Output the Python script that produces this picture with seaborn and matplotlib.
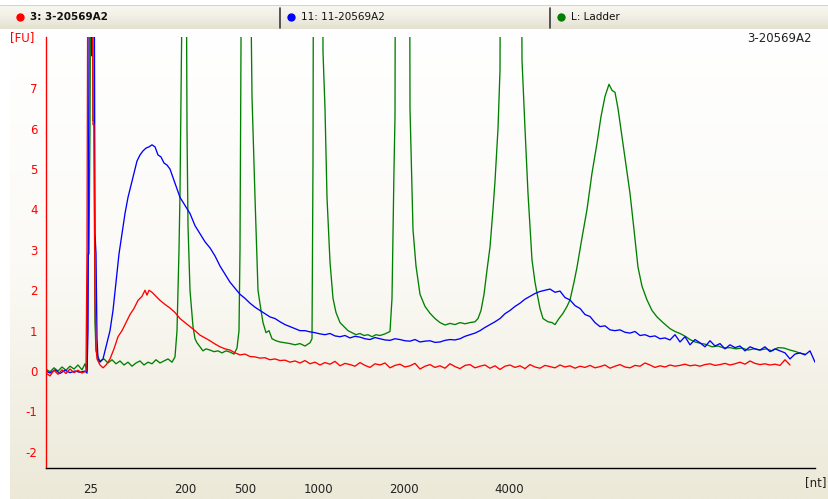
import numpy as np
import pandas as pd
import matplotlib
matplotlib.use("Agg")
import matplotlib.pyplot as plt
import seaborn as sns
from matplotlib.colors import LinearSegmentedColormap

# ---------------- data (migration time in s, fluorescence in FU) ----------------
sample3_time = [18.3, 18.5, 18.7, 18.9, 19.1, 19.3, 19.5, 19.7, 19.9, 20.1, 20.3,
                20.35, 20.4, 20.5, 20.55, 20.6, 20.65, 20.7, 20.75, 20.8, 20.85,
                21.0, 21.15, 21.3,
                21.5, 21.7, 21.9, 22.1, 22.3, 22.5, 22.7, 22.9, 23.1,
                23.25, 23.35, 23.45, 23.6, 23.8, 24.0,
                24.25, 24.5, 24.75, 25.0, 25.25, 25.5, 25.75, 26.0, 26.25, 26.5,
                26.75, 27.0, 27.25, 27.5, 27.75, 28.0, 28.25, 28.5, 28.75, 29.0,
                29.25, 29.5, 29.75, 30.0, 30.25, 30.5, 30.75,
                31.0, 31.25, 31.5, 31.75, 32.0, 32.25, 32.5, 32.75, 33.0, 33.25,
                33.5, 33.75, 34.0, 34.25, 34.5, 34.75, 35.0, 35.25, 35.5, 35.75,
                36.0, 36.25, 36.5, 36.75, 37.0, 37.25, 37.5, 37.75, 38.0, 38.25,
                38.5, 38.75, 39.0, 39.25, 39.5, 39.75, 40.0, 40.25, 40.5, 40.75,
                41.0, 41.25, 41.5, 41.75, 42.0, 42.25, 42.5, 42.75, 43.0, 43.25,
                43.5, 43.75, 44.0, 44.25, 44.5, 44.75, 45.0, 45.25, 45.5, 45.75,
                46.0, 46.25, 46.5, 46.75, 47.0, 47.25, 47.5, 47.75, 48.0, 48.25,
                48.5, 48.75, 49.0, 49.25, 49.5, 49.75, 50.0, 50.25, 50.5, 50.75,
                51.0, 51.25, 51.5, 51.75, 52.0, 52.25, 52.5, 52.75, 53.0, 53.25,
                53.5, 53.75, 54.0, 54.25, 54.5, 54.75, 55.0, 55.25, 55.5]
sample3_fu = [-0.05, -0.12, 0.02, -0.08, 0.03, -0.06, 0.05, -0.04, 0.02, -0.05, 0.0,
              3.0, 12, 30, 30, 12, 6.1, 6.1, 1.8, 0.6, 0.3,
              0.15, 0.08, 0.15,
              0.3, 0.55, 0.85, 1.0, 1.2, 1.4, 1.55, 1.75, 1.85,
              2.0, 1.88, 2.0, 1.95, 1.85, 1.75,
              1.65, 1.56, 1.45, 1.3, 1.2, 1.1, 1.0, 0.89, 0.82, 0.75,
              0.67, 0.6, 0.55, 0.52, 0.45, 0.4, 0.42, 0.36, 0.35, 0.32,
              0.33, 0.28, 0.3, 0.26, 0.27, 0.22, 0.25,
              0.20, 0.26, 0.18, 0.22, 0.15, 0.21, 0.17, 0.24, 0.13, 0.19,
              0.16, 0.12, 0.21, 0.14, 0.09, 0.18, 0.15, 0.20, 0.08, 0.14,
              0.17, 0.10, 0.13, 0.19, 0.05, 0.12, 0.16, 0.09, 0.13, 0.07,
              0.18, 0.11, 0.06, 0.14, 0.16, 0.08, 0.12, 0.15, 0.07, 0.13,
              0.04, 0.12, 0.15, 0.09, 0.13, 0.06, 0.16, 0.10, 0.07, 0.14,
              0.11, 0.08, 0.15, 0.10, 0.13, 0.07, 0.12, 0.09, 0.14, 0.08,
              0.11, 0.15, 0.07, 0.12, 0.16, 0.10, 0.08, 0.14, 0.12, 0.20,
              0.15, 0.09, 0.13, 0.10, 0.15, 0.12, 0.14, 0.17, 0.13, 0.15,
              0.12, 0.16, 0.18, 0.14, 0.16, 0.19, 0.15, 0.18, 0.22, 0.17,
              0.25, 0.19, 0.16, 0.18, 0.15, 0.17, 0.14, 0.28, 0.15]

sample11_time = [18.3, 18.5, 18.75, 19.0, 19.25, 19.5, 19.75, 20.0, 20.25,
                 20.35, 20.4, 20.45, 20.5, 20.55, 20.6, 20.65, 20.7, 20.75, 20.8, 20.85, 20.9,
                 21.0, 21.15, 21.3,
                 21.5, 21.65, 21.8, 21.95, 22.1, 22.25, 22.4, 22.55, 22.7, 22.85, 23.0,
                 23.15, 23.3, 23.45, 23.6, 23.75, 23.9, 24.05, 24.2, 24.35, 24.5,
                 24.75, 25.0, 25.25, 25.5, 25.75, 26.0, 26.25, 26.5, 26.75, 27.0,
                 27.25, 27.5, 27.75, 28.0, 28.25, 28.5, 28.75, 29.0, 29.25, 29.5,
                 29.75, 30.0, 30.25, 30.5, 30.75, 31.0, 31.25, 31.5, 31.75, 32.0,
                 32.25, 32.5, 32.75, 33.0, 33.25, 33.5, 33.75, 34.0, 34.25, 34.5,
                 34.75, 35.0, 35.25, 35.5, 35.75, 36.0, 36.25, 36.5, 36.75, 37.0,
                 37.25, 37.5, 37.75, 38.0, 38.25, 38.5, 38.75, 39.0, 39.25, 39.5,
                 39.75, 40.0, 40.25, 40.5, 40.75, 41.0, 41.25, 41.5, 41.75, 42.0,
                 42.25, 42.5, 42.75,
                 43.0, 43.25, 43.5, 43.75, 44.0, 44.25, 44.5, 44.75, 45.0, 45.25,
                 45.5, 45.75, 46.0, 46.25, 46.5, 46.75, 47.0, 47.25, 47.5, 47.75,
                 48.0, 48.25, 48.5, 48.75, 49.0, 49.25, 49.5, 49.75, 50.0, 50.25,
                 50.5, 50.75, 51.0, 51.25, 51.5, 51.75, 52.0, 52.25, 52.5, 52.75,
                 53.0, 53.25, 53.5, 53.75, 54.0, 54.25, 54.5, 54.75, 55.0, 55.25,
                 55.5, 55.75, 56.0, 56.25, 56.5, 56.75]
sample11_fu = [0.0, -0.05, 0.03, -0.06, 0.02, -0.04, 0.0, -0.03, 0.0,
               -0.05, 1.0, 8.0, 30, 12, 7.8, 30, 12, 3.4, 2.9, 0.8, 0.3,
               0.22, 0.3, 0.6,
               1.0, 1.5, 2.2, 2.9, 3.4, 3.9, 4.3, 4.6, 4.9, 5.2, 5.35,
               5.45, 5.52, 5.55, 5.6, 5.55, 5.35, 5.3, 5.15, 5.1, 5.0,
               4.65, 4.3, 4.1, 3.9, 3.6, 3.4, 3.2, 3.05, 2.85, 2.6,
               2.4, 2.2, 2.05, 1.9, 1.8, 1.68, 1.58, 1.5, 1.42, 1.34,
               1.3, 1.22, 1.15, 1.1, 1.05, 1.0, 1.0, 0.97, 0.95, 0.92,
               0.9, 0.93, 0.87, 0.85, 0.88, 0.82, 0.86, 0.84, 0.8, 0.78,
               0.83, 0.8, 0.77, 0.76, 0.8, 0.78, 0.75, 0.74, 0.78, 0.72,
               0.74, 0.75, 0.71, 0.72, 0.76, 0.78, 0.77, 0.8, 0.86, 0.9,
               0.94, 1.0, 1.08, 1.15, 1.22, 1.3, 1.42, 1.5, 1.6, 1.68,
               1.78, 1.85, 1.92,
               1.97, 2.0, 2.03, 1.95, 1.98, 1.82, 1.76, 1.62, 1.55, 1.4,
               1.35, 1.2, 1.1, 1.12, 1.02, 1.0, 1.02, 0.96, 0.94, 0.98,
               0.88, 0.9, 0.85, 0.87, 0.8, 0.82, 0.77, 0.9, 0.72, 0.85,
               0.65, 0.78, 0.7, 0.6, 0.75, 0.62, 0.68, 0.55, 0.65, 0.58,
               0.62, 0.5, 0.6, 0.55, 0.52, 0.6, 0.48, 0.55, 0.5, 0.45,
               0.3, 0.42, 0.45, 0.4, 0.5, 0.22]

ladder_time = [18.3, 18.5, 18.7, 18.9, 19.1, 19.3, 19.5, 19.7, 19.9, 20.1, 20.25,
               20.35, 20.4, 20.45, 20.5, 20.55, 20.6, 20.65, 20.7, 20.75, 20.8, 20.9,
               21.0, 21.2, 21.4, 21.6, 21.8, 22.0, 22.2, 22.4, 22.6, 22.8,
               23.0, 23.2, 23.4, 23.6, 23.8, 24.0, 24.2, 24.4, 24.6,
               24.75, 24.85, 24.95, 25.0, 25.1, 25.2, 25.3, 25.35, 25.4, 25.5,
               25.65, 25.75, 25.85, 26.0, 26.15, 26.3, 26.5, 26.7, 26.9, 27.1,
               27.3, 27.5, 27.7, 27.85, 27.95,
               28.0, 28.05, 28.25, 28.45, 28.55, 28.6, 28.75, 28.9, 29.05, 29.15,
               29.3, 29.45, 29.6, 29.8, 30.0, 30.25, 30.5, 30.75, 31.0, 31.25,
               31.5, 31.6,
               31.65, 31.75, 32.0, 32.15, 32.25, 32.35, 32.5, 32.65, 32.8, 33.0,
               33.2, 33.4, 33.6, 33.8, 34.0, 34.2, 34.4, 34.6, 34.8, 35.0,
               35.25, 35.5,
               35.6, 35.7, 35.75, 35.85, 36.4, 36.5, 36.65, 36.8, 37.0, 37.25,
               37.5, 37.75, 38.0, 38.25, 38.5, 38.75, 39.0, 39.25, 39.5, 39.75,
               39.9, 40.05, 40.2, 40.35, 40.5, 40.65, 40.75, 40.9, 41.0,
               41.15, 41.9, 42.1, 42.25, 42.4, 42.6, 42.75, 42.85, 43.0, 43.15,
               43.4, 43.6, 43.75, 43.95, 44.15, 44.35, 44.5, 44.7, 44.85, 45.1,
               45.35, 45.6, 45.85, 46.05, 46.25, 46.45, 46.6, 46.75, 46.9, 47.1,
               47.3, 47.5, 47.7, 47.9, 48.1, 48.35, 48.6, 48.85, 49.15, 49.5,
               49.75, 50.0, 50.3, 50.5, 50.75, 51.0, 51.3, 51.6, 51.9, 52.2,
               52.5, 52.8, 53.1, 53.4, 53.7, 54.0, 54.3, 54.6, 54.9, 55.2,
               55.5, 55.8, 56.0, 56.25]
ladder_fu = [0.05, -0.02, 0.08, 0.0, 0.1, 0.02, 0.12, 0.05, 0.15, 0.03, 0.18,
             0.0, 2.9, 2.9, 6.0, 12, 30, 6.2, 6.2, 1.2, 0.5, 0.35,
             0.25, 0.3, 0.2, 0.28, 0.18, 0.25, 0.15, 0.22, 0.12, 0.2,
             0.25, 0.15, 0.22, 0.18, 0.28, 0.2, 0.25, 0.3, 0.22,
             0.35, 1.0, 3.0, 4.4, 9, 30, 12, 6, 3.6, 2.0,
             1.1, 0.8, 0.7, 0.6, 0.5, 0.55, 0.52, 0.48, 0.5, 0.45,
             0.5, 0.47, 0.42, 0.57, 1.0,
             3.0, 8, 30, 30, 9, 6.8, 4.3, 2.0, 1.5, 1.2,
             0.95, 1.0, 0.8, 0.75, 0.72, 0.7, 0.68, 0.65, 0.68, 0.62,
             0.7, 0.8,
             5.2, 30, 30, 7.9, 6.5, 4.3, 2.7, 1.8, 1.45, 1.2,
             1.1, 1.0, 0.95, 0.9, 0.93, 0.88, 0.9, 0.85, 0.9, 0.88,
             0.92, 0.98,
             1.8, 5.0, 6.3, 30, 30, 6.5, 3.5, 2.6, 1.9, 1.6,
             1.43, 1.3, 1.2, 1.14, 1.18, 1.15, 1.2, 1.17, 1.2, 1.22,
             1.3, 1.5, 1.9, 2.5, 3.07, 4.0, 4.7, 6.0, 7.45,
             30, 30, 7.7, 6.0, 4.4, 2.75, 2.2, 1.93, 1.55, 1.3,
             1.22, 1.2, 1.15, 1.3, 1.43, 1.6, 1.76, 2.2, 2.57, 3.3,
             4.0, 4.9, 5.64, 6.3, 6.8, 7.1, 6.95, 6.9, 6.5, 5.8,
             5.1, 4.4, 3.5, 2.57, 2.1, 1.76, 1.5, 1.34, 1.2, 1.05,
             0.98, 0.93, 0.85, 0.78, 0.72, 0.69, 0.66, 0.6, 0.62, 0.57,
             0.58, 0.55, 0.57, 0.52, 0.55, 0.52, 0.55, 0.5, 0.58, 0.57,
             0.52, 0.48, 0.44, 0.42]

size_labels = ["25", "200", "500", "1000", "2000", "4000"]
size_times = [20.55, 25.25, 28.25, 31.9, 36.2, 41.45]
y_ticks = [-2, -1, 0, 1, 2, 3, 4, 5, 6, 7, 8]

names = ["3: 3-20569A2", "11: 11-20569A2", "L: Ladder"]
colors = {"3: 3-20569A2": "#FF0000", "11: 11-20569A2": "#0000FF", "L: Ladder": "#008000"}

df = pd.concat([
    pd.DataFrame({"time": ladder_time, "fu": ladder_fu, "sample": names[2]}),
    pd.DataFrame({"time": sample11_time, "fu": sample11_fu, "sample": names[1]}),
    pd.DataFrame({"time": sample3_time, "fu": sample3_fu, "sample": names[0]}),
], ignore_index=True)

# ---------------- figure ----------------
sns.set_style("white")
plt.rcParams['font.family'] = ['DejaVu Sans']

W, H = 829, 499
fig = plt.figure(figsize=(W / 100, H / 100), dpi=100)
fig.patch.set_facecolor("white")

def fx(px):
    return px / W

def fy(py):
    return 1 - py / H

# gradient background of chart panel
bg = fig.add_axes([fx(10), 0, 1 - fx(10), fy(30)])
grad = np.linspace(0, 1, 256).reshape(-1, 1)
cmap = LinearSegmentedColormap.from_list("bg", ["#FFFFFF", "#FBFAF6", "#ECE9D8"])
bg.imshow(grad, aspect="auto", cmap=cmap, extent=[0, 1, 0, 1], origin="upper")
bg.set_axis_off()

# legend bar
lb = fig.add_axes([0, fy(29), 1, (29 - 5) / H])
cmap2 = LinearSegmentedColormap.from_list("lb", ["#FAF9F3", "#F1EFE5", "#E4E1D0"])
lb.imshow(grad, aspect="auto", cmap=cmap2, extent=[0, 829, 0, 24], origin="upper")
lb.set_xlim(0, 829)
lb.set_ylim(0, 24)
lb.set_axis_off()
for sx in [280, 550]:
    lb.plot([sx, sx], [1, 21], color="#3A3A3A", lw=1.2)
lb.plot([0, 829], [24, 24], color="#D8D5C6", lw=0.8)
entries = [(20, names[0], True), (291, names[1], False), (561, names[2], False)]
for x0, nm, bold in entries:
    lb.plot([x0], [12], marker="o", markersize=6, color=colors[nm], markeredgewidth=0)
    lb.text(x0 + 10, 12, nm, va="center", ha="left", fontsize=7.5,
            fontweight="bold" if bold else "normal", color="#111111")

# main axes
ax = fig.add_axes([fx(46), fy(468), fx(815) - fx(46), (468 - 37) / H])
ax.set_facecolor("none")
sns.lineplot(data=df, x="time", y="fu", hue="sample",
             hue_order=[names[2], names[1], names[0]],
             palette=colors, estimator=None, sort=False,
             linewidth=0.95, legend=False, ax=ax)

ax.set_xlim(18.3, 56.75)
ax.set_ylim(-2.4, 8.27)
ax.set_xlabel("")
ax.set_ylabel("")
ax.set_xticks(size_times)
ax.set_xticklabels(size_labels)
ax.set_yticks(y_ticks)
ax.set_yticklabels([str(v) if v != 8 else "" for v in y_ticks])
for s in ["top", "right"]:
    ax.spines[s].set_visible(False)
ax.spines["left"].set_color("#FF0000")
ax.spines["left"].set_linewidth(1.0)
ax.spines["bottom"].set_color("#000000")
ax.spines["bottom"].set_linewidth(1.0)
ax.tick_params(axis="y", colors="#FF0000", direction="out", length=4, width=1,
               labelsize=8.5, pad=2)
ax.tick_params(axis="x", colors="#000000", labelcolor="#222222", direction="out",
               length=5, width=1, labelsize=8.5, pad=6)
ax.grid(False)

fig.text(fx(10), fy(38), "[FU]", color="#FF0000", fontsize=8.5, va="center", ha="left")
fig.text(fx(805), fy(483), "[nt]", color="#222222", fontsize=8.5, va="center", ha="left")
fig.text(fx(812), fy(38), "3-20569A2", color="#222222", fontsize=8.5, va="center", ha="right")

fig.savefig("out.png", dpi=100)
